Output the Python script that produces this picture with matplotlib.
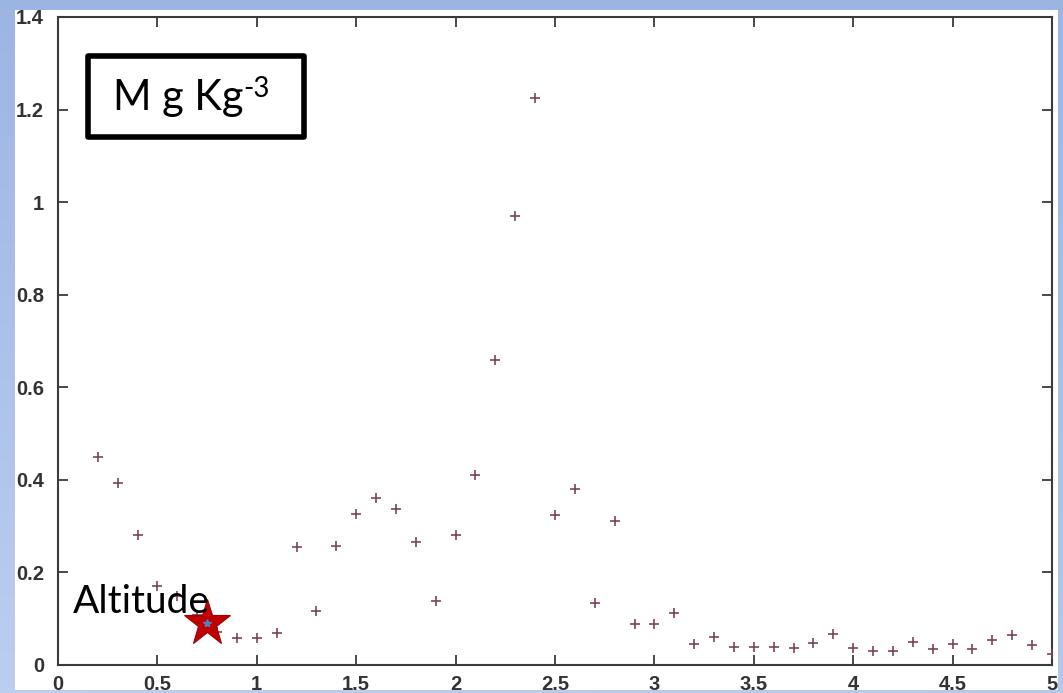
import numpy as np
import matplotlib.pyplot as plt
from matplotlib.patches import Rectangle
from matplotlib.ticker import MultipleLocator, FormatStrFormatter

# altitude (km) and measured mass mixing ratio
altitude = [0.2, 0.3, 0.4, 0.5, 0.6, 0.7, 0.8, 0.9, 1.0, 1.1,
            1.2, 1.3, 1.4, 1.5, 1.6, 1.7, 1.8, 1.9, 2.0, 2.1,
            2.2, 2.3, 2.4, 2.5, 2.6, 2.7, 2.8, 2.9, 3.0, 3.1,
            3.2, 3.3, 3.4, 3.5, 3.6, 3.7, 3.8, 3.9, 4.0, 4.1,
            4.2, 4.3, 4.4, 4.5, 4.6, 4.7, 4.8, 4.9, 5.0]
ratio = [0.449, 0.394, 0.281, 0.171, 0.150, 0.108, 0.072, 0.059, 0.059, 0.070,
         0.256, 0.117, 0.257, 0.326, 0.361, 0.336, 0.266, 0.138, 0.281, 0.411,
         0.659, 0.971, 1.226, 0.323, 0.380, 0.133, 0.312, 0.088, 0.088, 0.113,
         0.045, 0.061, 0.038, 0.038, 0.038, 0.036, 0.047, 0.068, 0.036, 0.031,
         0.031, 0.050, 0.035, 0.045, 0.035, 0.055, 0.065, 0.043, 0.023]

# highlighted site altitude
site_alt = 0.75
site_val = 0.09

unit_label = "M g Kg"
unit_power = "-3"

W, H = 1063, 693
fig = plt.figure(figsize=(W / 100, H / 100), dpi=100, facecolor="white")
ax = fig.add_axes([58 / W, (H - 665) / H, 994 / W, 648 / H])

ax.plot(altitude, ratio, linestyle="none", marker="+", ms=7.5, mew=1.2,
        color="#7a4654", zorder=3)

# star for the site
ax.plot([site_alt], [site_val], linestyle="none", marker="*", ms=35,
        color="#c00000", mec="#a00000", mew=0.8, zorder=4)
ax.plot([site_alt], [site_val], linestyle="none", marker="*", ms=6,
        color="#4f81bd", zorder=5)

ax.set_xlim(0, 5)
ax.set_ylim(0, 1.4)
ax.xaxis.set_major_locator(MultipleLocator(0.5))
ax.yaxis.set_major_locator(MultipleLocator(0.2))
ax.xaxis.set_major_formatter(FormatStrFormatter("%g"))
ax.yaxis.set_major_formatter(FormatStrFormatter("%g"))

for s in ax.spines.values():
    s.set_linewidth(1.5)
    s.set_color("#3a3a3a")
ax.tick_params(direction="in", top=True, right=True, length=7, width=1.3,
               color="#3a3a3a", labelsize=14.5, labelcolor="#333333")
ax.tick_params(axis="x", pad=7)
ax.tick_params(axis="y", pad=10)
for lab in ax.get_xticklabels() + ax.get_yticklabels():
    lab.set_family("Liberation Sans")
    lab.set_fontweight("bold")

ax.text(0.074, 0.113, "Altitude", family="Lato", fontsize=28,
        va="baseline", ha="left", color="black", zorder=6)

# unit box in the top-left corner
ax.add_patch(Rectangle((0.0305, 0.815), 0.217, 0.125, transform=ax.transAxes,
                       facecolor="white", edgecolor="black", lw=4,
                       joinstyle="round", zorder=6))
t = ax.text(0.055, 0.8565, unit_label, transform=ax.transAxes, family="Lato",
            fontsize=30, va="baseline", ha="left", zorder=7)
ax.annotate(unit_power, xy=(1, 1), xycoords=t, xytext=(0, 2),
            textcoords="offset points", family="Lato", fontsize=20,
            va="top", ha="left", zorder=7)

# blue slide frame around the white panel
yy = np.linspace(0, 1, H)[:, None]
xx = np.linspace(0, 1, W)[None, :]
top = np.array([0.61, 0.71, 0.89])
bot = np.array([0.74, 0.81, 0.94])
mix = np.clip(0.75 * yy + 0.25 * (1 - xx) * yy, 0, 1)
frame = np.zeros((H, W, 4))
frame[..., :3] = top + (bot - top) * mix[..., None]
frame[..., 3] = 1.0
frame[10:690, 15:1058, 3] = 0.0
fig.figimage(frame, xo=0, yo=0, origin="upper", zorder=10)

fig.savefig("out.png", dpi=100)
